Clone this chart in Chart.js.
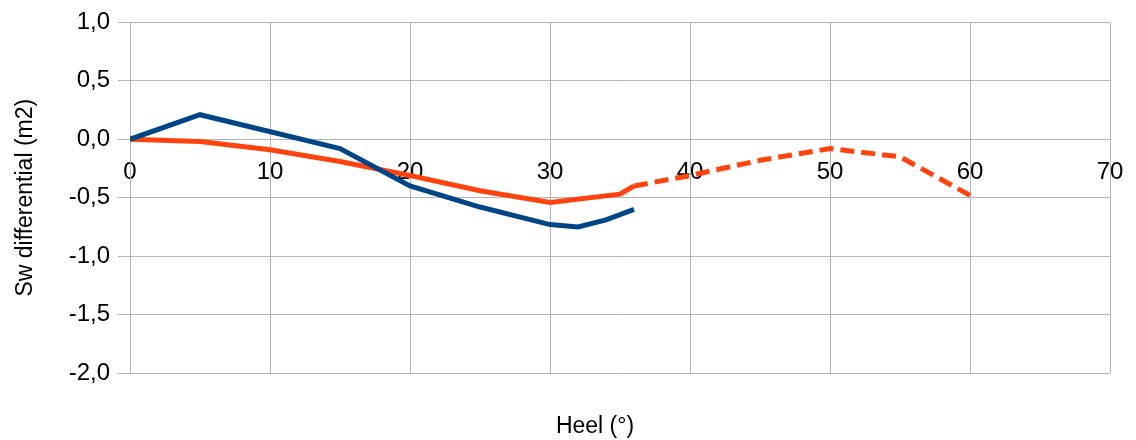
<!DOCTYPE html>
<html>
<head>
<meta charset="utf-8">
<script src="https://cdn.jsdelivr.net/npm/chart.js@4/dist/chart.umd.min.js"></script>
<style>
  html, body { margin: 0; padding: 0; background: #fff; }
  #wrap { width: 1136px; height: 440px; }
</style>
</head>
<body>
<div id="wrap"><canvas id="heel-chart"></canvas></div>
<script>
// heel angle (deg) and Sw differential (m2)
const heelBlue = [0, 5, 15, 20, 25, 30, 32, 34, 36];
const swBlue = [0, 0.21, -0.08, -0.40, -0.58, -0.73, -0.75, -0.69, -0.60];

const heelRed = [0, 5, 10, 15, 20, 25, 30, 35, 36];
const swRed = [0, -0.02, -0.09, -0.19, -0.31, -0.44, -0.54, -0.47, -0.40];

const heelRedDash = [36, 40, 45, 50, 55, 60];
const swRedDash = [-0.40, -0.31, -0.18, -0.08, -0.15, -0.48];

const xTicks = [0, 10, 20, 30, 40, 50, 60, 70];
const yTicks = [-2.0, -1.5, -1.0, -0.5, 0.0, 0.5, 1.0];

const xTitle = 'Heel (°)';
const yTitle = 'Sw differential (m2)';

const toPoints = (xs, ys) => xs.map((x, i) => ({ x: x, y: ys[i] }));
const gridCol = '#b3b3b3';
const font = 'Liberation Sans, Arial, sans-serif';

// x axis sits on y=0, so its title is drawn at the bottom by hand
const xTitlePlugin = {
    id: 'xTitle',
    afterDraw(chart) {
        const c = chart.ctx;
        const a = chart.chartArea;
        c.save();
        c.fillStyle = '#000';
        c.font = '23px ' + font;
        c.textAlign = 'center';
        c.textBaseline = 'alphabetic';
        c.fillText(xTitle, (a.left + a.right) / 2 - 25, chart.height - 7);
        c.restore();
    }
};

const ctx = document.getElementById('heel-chart').getContext('2d');
new Chart(ctx, {
    type: 'line',
    data: {
        datasets: [{
            label: 'blue',
            data: toPoints(heelBlue, swBlue),
            borderColor: '#004586',
            borderWidth: 5,
            pointRadius: 0,
            tension: 0
        }, {
            label: 'red',
            data: toPoints(heelRed, swRed),
            borderColor: '#ff420e',
            borderWidth: 5,
            pointRadius: 0,
            tension: 0
        }, {
            label: 'red dashed',
            data: toPoints(heelRedDash, swRedDash),
            borderColor: '#ff420e',
            borderWidth: 5,
            borderDash: [14, 7],
            pointRadius: 0,
            tension: 0
        }]
    },
    plugins: [xTitlePlugin],
    options: {
        responsive: true,
        maintainAspectRatio: false,
        animation: false,
        layout: { padding: { top: 9, right: 26, left: 0, bottom: 67 } },
        plugins: {
            legend: { display: false },
            tooltip: { enabled: false }
        },
        scales: {
            x: {
                type: 'linear',
                position: { y: 0 },
                min: 0,
                max: 70,
                afterFit: s => { s.height = 0; s.paddingLeft = 0; s.paddingRight = 0; },
                afterBuildTicks: s => { s.ticks = xTicks.map(v => ({ value: v })); },
                ticks: {
                    color: '#000',
                    padding: 19,
                    font: { family: font, size: 24 },
                    maxRotation: 0
                },
                grid: { color: gridCol, lineWidth: 1, drawTicks: false },
                border: { color: gridCol }
            },
            y: {
                min: -2,
                max: 1,
                afterFit: s => { s.width = 130; },
                afterBuildTicks: s => { s.ticks = yTicks.map(v => ({ value: v })); },
                ticks: {
                    color: '#000',
                    padding: 8,
                    font: { family: font, size: 24 },
                    callback: v => v.toFixed(1).replace('.', ',')
                },
                grid: { color: gridCol, lineWidth: 1, tickLength: 12 },
                border: { color: gridCol },
                title: {
                    display: true,
                    text: yTitle,
                    color: '#000',
                    font: { family: font, size: 23 },
                    padding: { top: 12, bottom: 0 }
                }
            }
        }
    }
});
</script>
</body>
</html>
